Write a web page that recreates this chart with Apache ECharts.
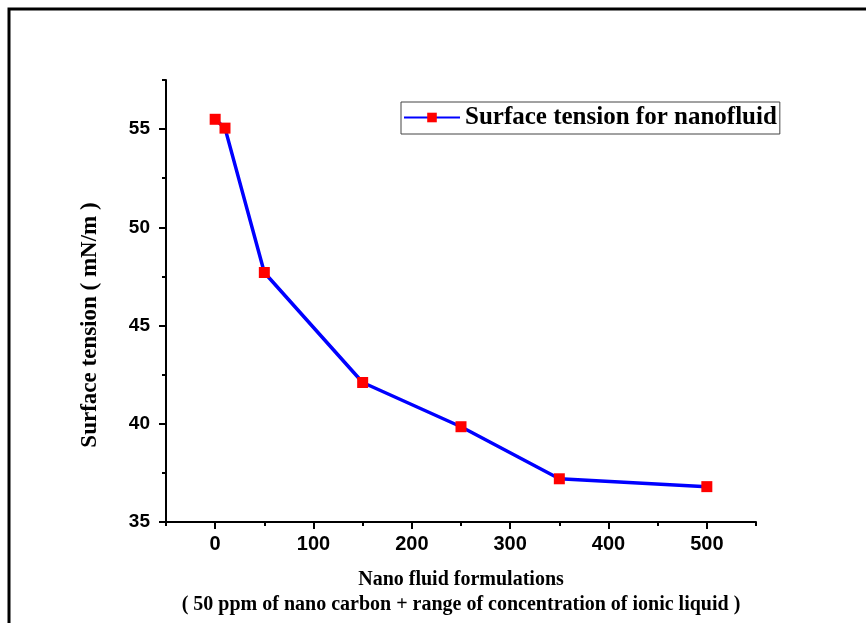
<!DOCTYPE html>
<html>
<head>
<meta charset="utf-8">
<title>Surface tension for nanofluid</title>
<script src="https://cdn.jsdelivr.net/npm/echarts@6/dist/echarts.min.js"></script>
<style>
  html, body { margin: 0; padding: 0; background: #fff; }
  #chart { width: 866px; height: 623px; }
</style>
</head>
<body>
<div id="chart"></div>
<script>
// data
var concentration = [0, 10, 50, 150, 250, 350, 500];
var tension = [55.5, 55.05, 47.7, 42.1, 39.85, 37.2, 36.8];

var xMajor = [0, 100, 200, 300, 400, 500];
var xMinor = [-50, 50, 150, 250, 350, 450, 550];
var yMajor = [35, 40, 45, 50, 55];
var yMinor = [37.5, 42.5, 47.5, 52.5, 57.5];

var seriesName = 'Surface tension for nanofluid';
var xTitle = 'Nano fluid formulations\n( 50 ppm of nano carbon + range of concentration of ionic liquid )';
var yTitle = 'Surface tension ( mN/m )';

var serif = '"Liberation Serif", "Times New Roman", serif';
var sans = '"Liberation Sans", Arial, sans-serif';

var myChart = echarts.init(document.getElementById('chart'));

var axisLine = { show: true, onZero: false, lineStyle: { color: '#000', width: 2 } };
var hiddenLine = { show: false, onZero: false };

var option = {
    animation: false,
    backgroundColor: '#fff',
    grid: { left: 166, right: 110, top: 80, bottom: 101 },
    legend: {
        left: 401,
        top: 102,
        padding: [3, 3, 4, 2],
        borderColor: '#444',
        borderWidth: 1,
        itemWidth: 56,
        itemHeight: 12,
        itemGap: 6,
        textStyle: { fontFamily: serif, fontWeight: 'bold', fontSize: 25, color: '#000' },
        data: [seriesName]
    },
    xAxis: [{
        type: 'value',
        min: -50,
        max: 550,
        name: xTitle,
        nameLocation: 'middle',
        nameGap: 45,
        nameTextStyle: { fontFamily: serif, fontWeight: 'bold', fontSize: 20, lineHeight: 25, color: '#000' },
        axisLine: axisLine,
        axisTick: { show: true, length: 7, customValues: xMajor, lineStyle: { color: '#000', width: 2 } },
        axisLabel: { customValues: xMajor, margin: 12, fontFamily: sans, fontWeight: 'bold', fontSize: 20, color: '#000' },
        splitLine: { show: false }
    }, {
        type: 'value',
        min: -50,
        max: 550,
        position: 'bottom',
        axisLine: hiddenLine,
        axisTick: { show: true, length: 4, customValues: xMinor, lineStyle: { color: '#000', width: 2 } },
        axisLabel: { show: false },
        splitLine: { show: false }
    }],
    yAxis: [{
        type: 'value',
        min: 35,
        max: 57.5,
        axisLine: axisLine,
        axisTick: { show: true, length: 7, customValues: yMajor, lineStyle: { color: '#000', width: 2 } },
        axisLabel: { customValues: yMajor, margin: 16, fontFamily: sans, fontWeight: 'bold', fontSize: 19, color: '#000' },
        splitLine: { show: false }
    }, {
        type: 'value',
        min: 35,
        max: 57.5,
        position: 'left',
        axisLine: hiddenLine,
        axisTick: { show: true, length: 4, customValues: yMinor, lineStyle: { color: '#000', width: 2 } },
        axisLabel: { show: false },
        splitLine: { show: false }
    }],
    graphic: [{
        type: 'polyline',
        shape: { points: [[9, 623], [9, 9], [866, 9]] },
        style: { stroke: '#000', lineWidth: 3, fill: null }
    }, {
        type: 'text',
        x: 90,
        y: 325,
        rotation: Math.PI / 2,
        style: {
            text: yTitle,
            fontFamily: serif,
            fontWeight: 'bold',
            fontSize: 23,
            fill: '#000',
            align: 'center',
            verticalAlign: 'middle'
        }
    }],
    series: [{
        name: seriesName,
        type: 'line',
        data: concentration.map(function (x, i) { return [x, tension[i]]; }),
        symbol: 'rect',
        symbolSize: 11,
        lineStyle: { color: '#0000ff', width: 3.5 },
        itemStyle: { color: '#ff0000' },
        z: 3
    }]
};

myChart.setOption(option);
</script>
</body>
</html>
